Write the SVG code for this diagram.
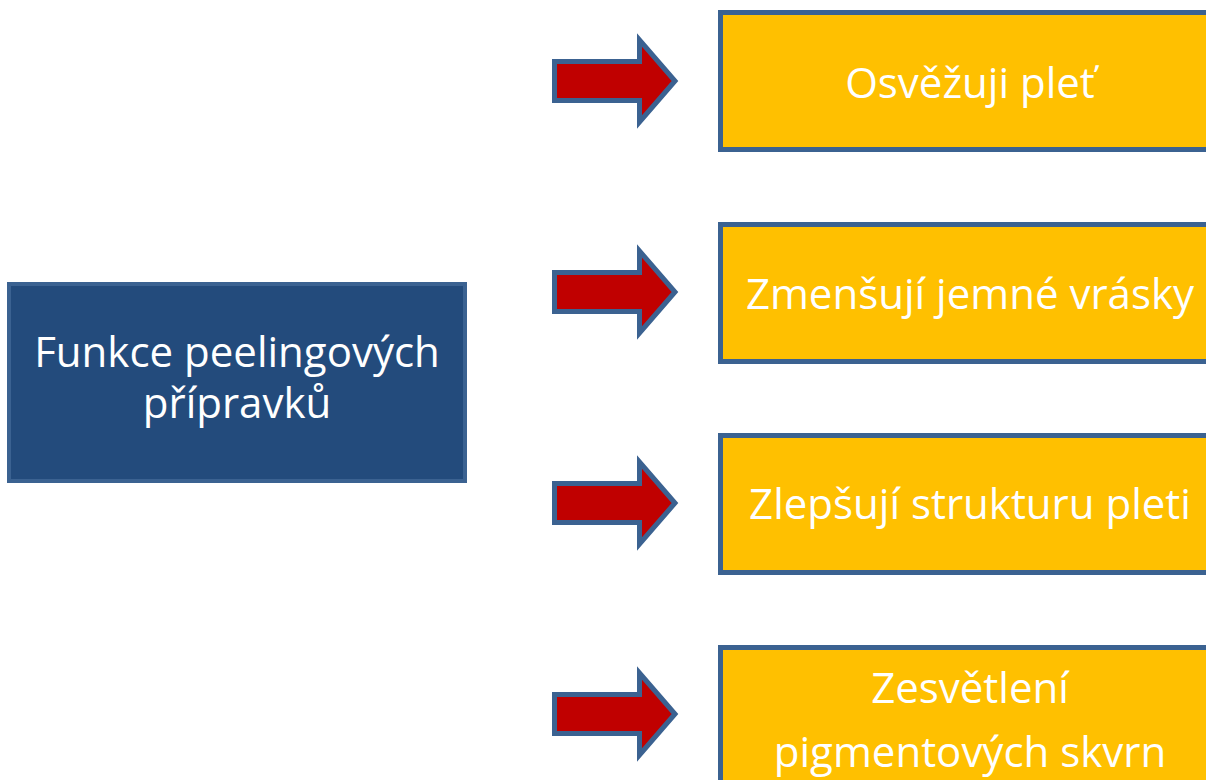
<svg xmlns="http://www.w3.org/2000/svg" width="1206" height="780" viewBox="0 0 1206 780">
<style>
.box{fill:#FFC000;stroke:#3B6291;stroke-width:5}
.main{fill:#234B7C;stroke:#3B6291;stroke-width:4}
.arr{fill:#C00000;stroke:#3B6291;stroke-width:5;stroke-linejoin:miter}
text{font-family:"Open Sans","Liberation Sans",sans-serif;font-size:42px;fill:#FFFFFF;text-anchor:middle}
</style>
<rect width="1206" height="780" fill="#FFFFFF"/>
<g id="connectors">
<path class="arr" d="M554.5,61.5 H639.5 V40 L675,81 L639.5,122 V100.5 H554.5 Z"/>
<path class="arr" d="M554.5,272.5 H639.5 V251 L675,292 L639.5,333 V311.5 H554.5 Z"/>
<path class="arr" d="M554.5,483.5 H639.5 V462 L675,503 L639.5,544 V522.5 H554.5 Z"/>
<path class="arr" d="M554.5,694.5 H639.5 V673 L675,714 L639.5,755 V733.5 H554.5 Z"/>
</g>
<g id="main">
<rect class="main" x="9" y="284" width="456" height="197"/>
<text x="237" y="367">Funkce peelingových</text>
<text x="237" y="418">přípravků</text>
</g>
<g id="n1">
<rect class="box" x="720.5" y="12.5" width="500" height="137"/>
<text x="970" y="98">Osvěžuji pleť</text>
</g>
<g id="n2">
<rect class="box" x="720.5" y="224.5" width="500" height="137"/>
<text x="970" y="309">Zmenšují jemné vrásky</text>
</g>
<g id="n3">
<rect class="box" x="720.5" y="435.5" width="500" height="137"/>
<text x="970" y="519">Zlepšují strukturu pleti</text>
</g>
<g id="n4">
<rect class="box" x="720.5" y="647.5" width="500" height="160"/>
<text x="970" y="703">Zesvětlení</text>
<text x="970" y="767">pigmentových skvrn</text>
</g>
</svg>
